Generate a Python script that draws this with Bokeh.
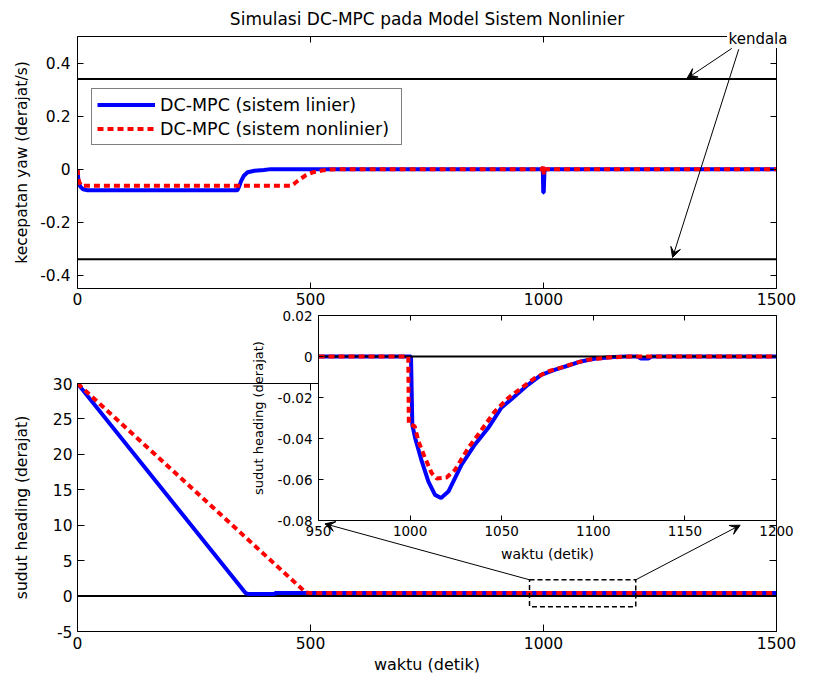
from bokeh.plotting import figure
from bokeh.models import (Range1d, LinearAxis, FixedTicker, CustomJSTickFormatter, Div,
                          Arrow, VeeHead, Legend, LegendItem, GridBox)
from bokeh.embed import file_html
from bokeh.resources import INLINE

FONT = "DejaVu Sans"
BLUE = "#0000ff"
RED = "#ff0000"

# ---------------- data ----------------
# yaw rate (deg/s)
t_yaw_linier = [0, 2, 6, 12, 22, 343, 347, 351, 357, 365, 380, 400, 415,
                998.5, 999.5, 1000.5, 1002, 1005, 1500]
yaw_linier = [0, -0.045, -0.066, -0.076, -0.080, -0.080, -0.065, -0.045, -0.025, -0.012,
              -0.006, -0.003, 0, 0, -0.088, -0.088, -0.01, 0, 0]
t_yaw_nonlinier = [0, 3, 8, 458, 465, 472, 480, 490, 505, 525, 545, 560,
                   998.5, 999.5, 1000.5, 1001.5, 1500]
yaw_nonlinier = [0, -0.045, -0.063, -0.063, -0.055, -0.045, -0.035, -0.023, -0.012, -0.005,
                 -0.001, 0, 0, 0.012, -0.02, 0, 0]
kendala = [0.34, -0.34]          # constraint levels
t_full = [0, 1500]

# heading angle (deg)
t_heading_linier = [0, 361, 366, 423, 425, 1500]
heading_linier = [30, 0.4, 0.3, 0.3, 0.45, 0.45]
t_heading_nonlinier = [0, 490, 497, 1500]
heading_nonlinier = [30, 0.5, 0.45, 0.45]
heading_ref = 0

# zoomed heading 950..1200 s
t_zoom_linier = [950, 1000.5, 1001.2, 1002.7, 1006.4, 1010, 1013.6, 1016.9, 1020.9, 1028.1,
                 1035.3, 1042.6, 1049.8, 1057, 1064.3, 1071.6, 1078.8, 1086, 1093.3, 1100.5,
                 1111, 1118, 1124, 1126, 1130, 1132, 1200]
heading_zoom_linier = [0, 0, -0.0333, -0.0396, -0.0512, -0.061, -0.0675, -0.069, -0.0659,
                       -0.0528, -0.043, -0.0349, -0.025, -0.0195, -0.0138, -0.009, -0.0065,
                       -0.0045, -0.0024, -0.0011, -0.0003, 0, 0, -0.001, -0.001, 0, 0]
t_zoom_nonlinier = [950, 999, 999.3, 1002.5, 1004.6, 1008.2, 1011.8, 1014.5, 1019.9, 1024.5,
                    1031.7, 1039, 1046.2, 1053.5, 1060.7, 1067.9, 1075.2, 1082.4, 1089.7,
                    1097, 1108, 1120, 1200]
heading_zoom_nonlinier = [0, 0, -0.033, -0.034, -0.0415, -0.0496, -0.0569, -0.0595, -0.059,
                          -0.0553, -0.0447, -0.0358, -0.0268, -0.0203, -0.0154, -0.0106,
                          -0.0073, -0.0054, -0.0033, -0.0016, -0.0005, 0, 0]
t_zoom = [950, 1200]

# ticks
x_ticks_main = [0, 500, 1000, 1500]
yaw_ticks = [-0.4, -0.2, 0, 0.2, 0.4]
heading_ticks = [-5, 0, 5, 10, 15, 20, 25, 30]
zoom_x_ticks = [950, 1000, 1050, 1100, 1150, 1200]
zoom_y_ticks = [-0.08, -0.06, -0.04, -0.02, 0, 0.02]

# annotations (data units)
kendala_text = "kendala"
kendala_arrow_start = [(1404, 0.455), (1419, 0.452)]
kendala_arrow_end = [(1308, 0.342), (1277, -0.333)]
zoom_box_t = [970, 1198]
zoom_box_v = [-1.5, 2.3]
zoom_arrow_start = [(970, 2.3), (1198, 2.3)]
zoom_arrow_end = [(531, 10.2), (1422, 10.0)]

legend_labels = ["DC-MPC (sistem linier)", "DC-MPC (sistem nonlinier)"]

FMT = "return String(Math.round(tick*10000)/10000);"


def style_axis(ax, ticks, size, standoff, tick_in, labels=True):
    ax.ticker = FixedTicker(ticks=ticks)
    ax.major_tick_in = tick_in
    ax.major_tick_out = 0
    ax.minor_tick_line_color = None
    ax.major_tick_line_color = "black"
    ax.axis_line_color = "black"
    ax.major_label_text_font = FONT
    if labels:
        ax.formatter = CustomJSTickFormatter(code=FMT)
        ax.major_label_text_color = "black"
        ax.major_label_text_font_size = size
        ax.major_label_standoff = standoff
    else:
        ax.formatter = CustomJSTickFormatter(code="return '';")
        ax.major_label_text_color = None
        ax.major_label_text_alpha = 0
        ax.major_label_text_font_size = "1px"
        ax.major_label_standoff = 0


def label_axis(ax, text, size, standoff):
    ax.axis_label = text
    ax.axis_label_text_font = FONT
    ax.axis_label_text_font_size = size
    ax.axis_label_text_font_style = "normal"
    ax.axis_label_text_color = "black"
    ax.axis_label_standoff = standoff


def add_frame_axes(p, xt, yt, tick_in):
    top = LinearAxis()
    style_axis(top, xt, None, 0, tick_in, labels=False)
    p.add_layout(top, "above")
    right = LinearAxis()
    style_axis(right, yt, None, 0, tick_in, labels=False)
    p.add_layout(right, "right")


# ---------------- top: yaw rate ----------------
p1 = figure(width=815, height=310, x_range=Range1d(0, 1500), y_range=Range1d(-0.45, 0.5),
            output_backend="svg", toolbar_location=None,
            min_border_left=77, min_border_right=19, min_border_top=36, min_border_bottom=22)
p1.outline_line_color = None
p1.xgrid.grid_line_color = None
p1.ygrid.grid_line_color = None
p1.background_fill_color = "white"
p1.border_fill_color = "white"
style_axis(p1.xaxis[0], x_ticks_main, "15.5px", 4, 6)
style_axis(p1.yaxis[0], yaw_ticks, "15.5px", 7, 6)
label_axis(p1.yaxis[0], "kecepatan yaw (derajat/s)", "15.5px", 6)
add_frame_axes(p1, x_ticks_main, yaw_ticks, 6)

p1.title.text = "Simulasi DC-MPC pada Model Sistem Nonlinier"
p1.title.align = "center"
p1.title.vertical_align = "middle"
p1.title.text_font = FONT
p1.title.text_font_size = "17px"
p1.title.text_font_style = "normal"
p1.title.text_color = "black"
p1.title.standoff = 14

for c in kendala:
    p1.line(t_full, [c, c], line_color="black", line_width=2)
r_lin = p1.line(t_yaw_linier, yaw_linier, line_color=BLUE, line_width=4)
r_nl = p1.line(t_yaw_nonlinier, yaw_nonlinier, line_color=RED, line_width=4,
               line_dash="6 4")

legend = Legend(items=[LegendItem(label=legend_labels[0], renderers=[r_lin]),
                       LegendItem(label=legend_labels[1], renderers=[r_nl])],
                location=(14, 143), padding=5, spacing=3, margin=0,
                glyph_width=58, glyph_height=21, label_standoff=5,
                label_width=236, label_height=21,
                label_text_font=FONT, label_text_font_size="17.5px",
                label_text_color="black",
                border_line_color="black", border_line_width=1,
                background_fill_color="white", background_fill_alpha=1)
p1.add_layout(legend)

for (xs, ys), (xe, ye) in zip(kendala_arrow_start, kendala_arrow_end):
    p1.add_layout(Arrow(end=VeeHead(size=10, fill_color="black", line_color="black"),
                        x_start=xs, y_start=ys, x_end=xe, y_end=ye,
                        line_color="black", line_width=1))

# "kendala" tag that sits on the upper frame edge (white box breaks the frame line)
tag = Div(text=kendala_text, width=62, height=18, margin=(30, 0, 0, 727),
          styles={"font-family": FONT, "font-size": "15px", "line-height": "18px",
                  "background-color": "white", "color": "black", "text-align": "center",
                  "white-space": "nowrap"})

# ---------------- bottom: heading ----------------
p2 = figure(width=815, height=366, x_range=Range1d(0, 1500), y_range=Range1d(-5, 30),
            output_backend="svg", toolbar_location=None,
            min_border_left=77, min_border_right=19, min_border_top=73, min_border_bottom=44)
p2.outline_line_color = None
p2.xgrid.grid_line_color = None
p2.ygrid.grid_line_color = None
p2.background_fill_color = "white"
p2.border_fill_color = "white"
style_axis(p2.xaxis[0], x_ticks_main, "15.5px", 5, 7)
style_axis(p2.yaxis[0], heading_ticks, "15.5px", 5, 7)
label_axis(p2.xaxis[0], "waktu (detik)", "16px", 3)
label_axis(p2.yaxis[0], "sudut heading (derajat)", "15.5px", 19)
add_frame_axes(p2, x_ticks_main, heading_ticks, 7)

p2.line(t_full, [heading_ref, heading_ref], line_color="black", line_width=2)
p2.line(t_heading_linier, heading_linier, line_color=BLUE, line_width=4)
p2.line(t_heading_nonlinier, heading_nonlinier, line_color=RED, line_width=4, line_dash="6 4")
p2.quad(left=[zoom_box_t[0]], right=[zoom_box_t[1]], bottom=[zoom_box_v[0]], top=[zoom_box_v[1]],
        fill_color=None, line_color="black", line_width=1.5, line_dash="5 3")
for (xs, ys), (xe, ye) in zip(zoom_arrow_start, zoom_arrow_end):
    p2.add_layout(Arrow(end=VeeHead(size=10, fill_color="black", line_color="black"),
                        x_start=xs, y_start=ys, x_end=xe, y_end=ye,
                        line_color="black", line_width=1))

# ---------------- inset: zoom ----------------
p3 = figure(width=583, height=264, x_range=Range1d(950, 1200), y_range=Range1d(-0.08, 0.02),
            output_backend="svg", toolbar_location=None,
            min_border_left=86, min_border_right=39, min_border_top=13, min_border_bottom=46)
p3.outline_line_color = None
p3.xgrid.grid_line_color = None
p3.ygrid.grid_line_color = None
p3.background_fill_color = "white"
p3.border_fill_color = None
style_axis(p3.xaxis[0], zoom_x_ticks, "13.5px", 5, 5)
style_axis(p3.yaxis[0], zoom_y_ticks, "13.5px", 6, 5)
label_axis(p3.xaxis[0], "waktu (detik)", "14px", 7)
label_axis(p3.yaxis[0], "sudut heading (derajat)", "13px", 9)
add_frame_axes(p3, zoom_x_ticks, zoom_y_ticks, 5)

p3.line(t_zoom_linier, heading_zoom_linier, line_color=BLUE, line_width=4)
p3.line(t_zoom, [heading_ref, heading_ref], line_color="black", line_width=2)
p3.line(t_zoom_nonlinier, heading_zoom_nonlinier, line_color=RED, line_width=4, line_dash="6 4")

grid = GridBox(children=[(p1, 0, 0, 2, 2), (tag, 0, 0, 1, 2), (p2, 2, 0, 2, 2),
                         (p3, 1, 1, 2, 1)],
               rows=["302px", "8px", "256px", "110px"], cols=["232px", "583px"],
               width=815, height=676)

open("out.html", "w").write(file_html(grid, INLINE))
